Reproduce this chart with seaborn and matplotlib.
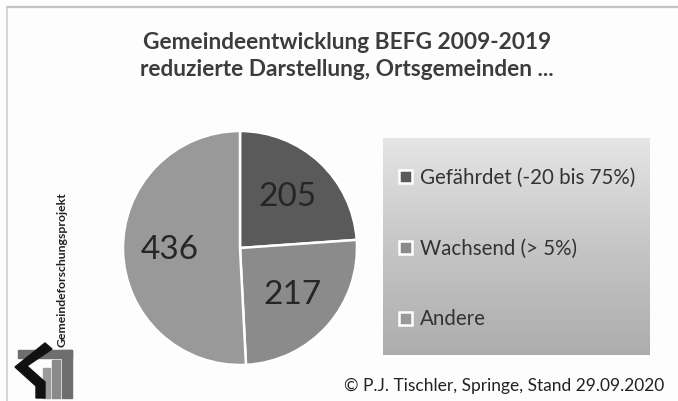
import numpy as np
import matplotlib
matplotlib.use("Agg")
import matplotlib.pyplot as plt
import seaborn as sns
from matplotlib.patches import Polygon, Rectangle

# data
categories = ["Gefährdet (-20 bis 75%)", "Wachsend (> 5%)", "Andere"]
counts = [205, 217, 436]
slice_colors = ["#5a5a5a", "#8b8b8b", "#999999"]

title = "Gemeindeentwicklung BEFG 2009-2019\nreduzierte Darstellung, Ortsgemeinden ..."
credit = "© P.J. Tischler, Springe, Stand 29.09.2020"
side_text = "Gemeindeforschungsprojekt"

sns.set_theme(style="white")
plt.rcParams["font.family"] = ["Lato", "DejaVu Sans"]

W, H = 678, 401
fig = plt.figure(figsize=(W / 100, H / 100), dpi=100)
fig.patch.set_facecolor("#fdfdfd")


def fbox(x0, y0, w, h):
    # pixel box (top-left origin) -> figure fraction
    return [x0 / W, 1 - (y0 + h) / H, w / W, h / H]


# thin frame lines at top and left
fig.add_artist(plt.Line2D([7 / W, 1], [1 - 7 / H, 1 - 7 / H], color="#c4c4c4", lw=1.6))
fig.add_artist(plt.Line2D([7 / W, 7 / W], [0, 1 - 7 / H], color="#d0d0d0", lw=1.2))

# title
fig.text(347 / W, 1 - 56 / H, title, ha="center", va="center", fontsize=16.3,
         fontweight="bold", color="#3c3c3c", linespacing=1.3)

# pie
ax = fig.add_axes(fbox(120, 128, 240, 240))
wedges, _, autotexts = ax.pie(
    counts, colors=slice_colors, startangle=90, counterclock=False,
    radius=117 / 120, autopct=lambda p: "{:.0f}".format(p * sum(counts) / 100),
    pctdistance=0.6, wedgeprops=dict(edgecolor="white", linewidth=1.8),
    textprops=dict(fontsize=24, color="#262626"),
)
ax.set_xlim(-1, 1)
ax.set_ylim(-1, 1)
ax.set_aspect("equal")
ax.axis("off")

# legend box with gradient
lax = fig.add_axes(fbox(383, 138, 267, 217))
grad = np.linspace(0, 1, 256).reshape(-1, 1)
lax.imshow(grad, cmap=matplotlib.colors.LinearSegmentedColormap.from_list(
    "g", ["#e5e5e5", "#c6c6c6", "#adadad"]), aspect="auto", extent=[0, 1, 0, 1],
    origin="upper")
lax.set_xlim(0, 1)
lax.set_ylim(0, 1)
lax.axis("off")
lax.legend(wedges, categories, loc="upper left", bbox_to_anchor=(0.03, 0.90),
           frameon=False, fontsize=14.8, handlelength=0.6, handleheight=0.6,
           handletextpad=0.4, labelspacing=2.47, labelcolor="#333333",
           borderaxespad=0)

# credit line
fig.text(504 / W, 1 - 386 / H, credit, ha="center", va="center", fontsize=12.5,
         color="#222222")

# side text
fig.text(62 / W, 1 - 270 / H, side_text, rotation=90, ha="center", va="center",
         fontsize=8.8, fontweight="bold", color="#222222")

# logo
gax = fig.add_axes(fbox(12, 342, 62, 58))
gax.set_xlim(0, 62)
gax.set_ylim(58, 0)
gax.axis("off")
gax.add_patch(Rectangle((6, 8), 54, 8, color="#6e6e6e"))
gax.add_patch(Rectangle((50, 8), 10, 48, color="#6e6e6e"))
gax.add_patch(Rectangle((40, 18), 8, 38, color="#8a8a8a"))
gax.add_patch(Rectangle((31, 26), 7, 30, color="#9a9a9a"))
gax.add_patch(Polygon([(33, 1), (40, 7), (15, 24), (33, 40), (33, 56), (24, 56),
                       (24, 44), (3, 25)], closed=True, color="#111111"))

fig.savefig("out.png", dpi=100, facecolor=fig.get_facecolor())
